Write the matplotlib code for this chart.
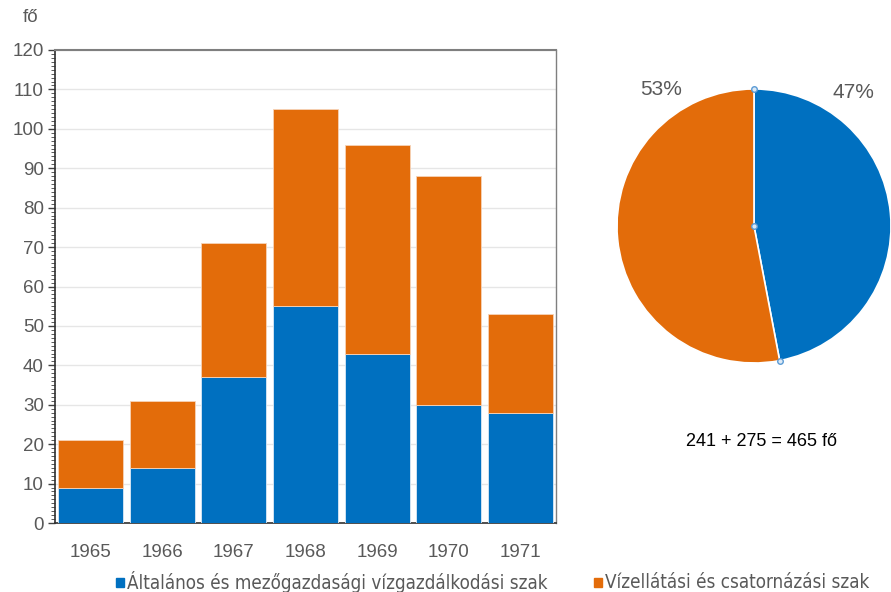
import numpy as np
import matplotlib.pyplot as plt
from matplotlib.ticker import MultipleLocator

years = ['1965', '1966', '1967', '1968', '1969', '1970', '1971']
altalanos = [9, 14, 37, 55, 43, 30, 28]
vizellatasi = [12, 17, 34, 50, 53, 58, 25]
pie_share = [47, 53]
series_names = ['Általános és mezőgazdasági vízgazdálkodási szak',
                'Vízellátási és csatornázási szak']
summary = '241 + 275 = 465 fő'

BLUE = '#0070C0'
ORANGE = '#E36C0A'
GRAY = '#595959'

plt.rcParams['font.family'] = ['Liberation Sans', 'DejaVu Sans']

fig = plt.figure(figsize=(8.91, 5.92), dpi=100)
W, H = 891, 592

# bar chart
ax = fig.add_axes([55 / W, 1 - 523 / H, (556 - 55) / W, (523 - 50) / H])
x = np.arange(len(years))
ax.bar(x, altalanos, width=0.91, color=BLUE, edgecolor='#dce9f5', linewidth=0.6, zorder=3)
ax.bar(x, vizellatasi, bottom=altalanos, width=0.91, color=ORANGE,
       edgecolor='#f6d3b8', linewidth=0.6, zorder=3)
ax.set_xlim(-0.5, len(years) - 0.5)
ax.set_ylim(0, 120)
ax.yaxis.set_major_locator(MultipleLocator(10))
ax.yaxis.set_minor_locator(MultipleLocator(1))
ax.grid(axis='y', color='#e6e6e6', linewidth=1, zorder=0)
ax.set_xticks(x)
ax.set_xticklabels(years)
ax.tick_params(axis='x', length=0, pad=15, labelsize=13.5, labelcolor=GRAY)
ax.tick_params(axis='y', which='major', length=5, width=1, color='#404040',
               labelsize=13.5, labelcolor=GRAY, pad=3)
ax.tick_params(axis='y', which='minor', length=3, width=0.6, color='#404040')
ax.spines['left'].set_color('#303030')
ax.spines['left'].set_linewidth(1.2)
ax.spines['bottom'].set_color('#303030')
ax.spines['bottom'].set_linewidth(1.2)
ax.spines['top'].set_color('#7f7f7f')
ax.spines['top'].set_linewidth(1.5)
ax.spines['right'].set_color('#7f7f7f')
ax.spines['right'].set_linewidth(1.0)
fig.text(31 / W, 1 - 18 / H, 'fő', fontsize=13.5, color=GRAY, ha='center', va='center')

# pie chart
r = 137
cx, cy = 754, 226
pax = fig.add_axes([(cx - r) / W, 1 - (cy + r) / H, 2 * r / W, 2 * r / H])
wedges, _ = pax.pie(pie_share, colors=[BLUE, ORANGE], startangle=90, counterclock=False,
                    wedgeprops=dict(edgecolor='white', linewidth=1.2))
pax.set_xlim(-1, 1)
pax.set_ylim(-1, 1)
pax.set_aspect('auto')
pax.axis('off')
# selection handles seen on the reference
ang = np.deg2rad(90 - 360 * pie_share[0] / 100)
pax.plot([0, 0, np.cos(ang)], [1, 0, np.sin(ang)], 'o', ms=4, mfc='#dbe9f6',
         mec='#5b9bd5', mew=1, clip_on=False, zorder=5)
fig.text(661 / W, 1 - 90 / H, f'{pie_share[1]}%', fontsize=15, color=GRAY, ha='center', va='center')
fig.text(853 / W, 1 - 93 / H, f'{pie_share[0]}%', fontsize=15, color=GRAY, ha='center', va='center')
fig.text(762 / W, 1 - 442 / H, summary, fontsize=13, color='black', ha='center', va='center')

# legend
leg_y = 1 - 582 / H
for sx, tx, col, name in [(120, 127, BLUE, series_names[0]), (598, 605, ORANGE, series_names[1])]:
    fig.patches.append(plt.Rectangle(((sx - 4) / W, leg_y - 4.5 / H), 8 / W, 9 / H,
                                     transform=fig.transFigure, color=col))
    fig.text(tx / W, leg_y, name, fontsize=13.5, color=GRAY, ha='left', va='center',
             family=['DejaVu Sans'], fontstretch='condensed')

fig.savefig('out.png', dpi=100)
